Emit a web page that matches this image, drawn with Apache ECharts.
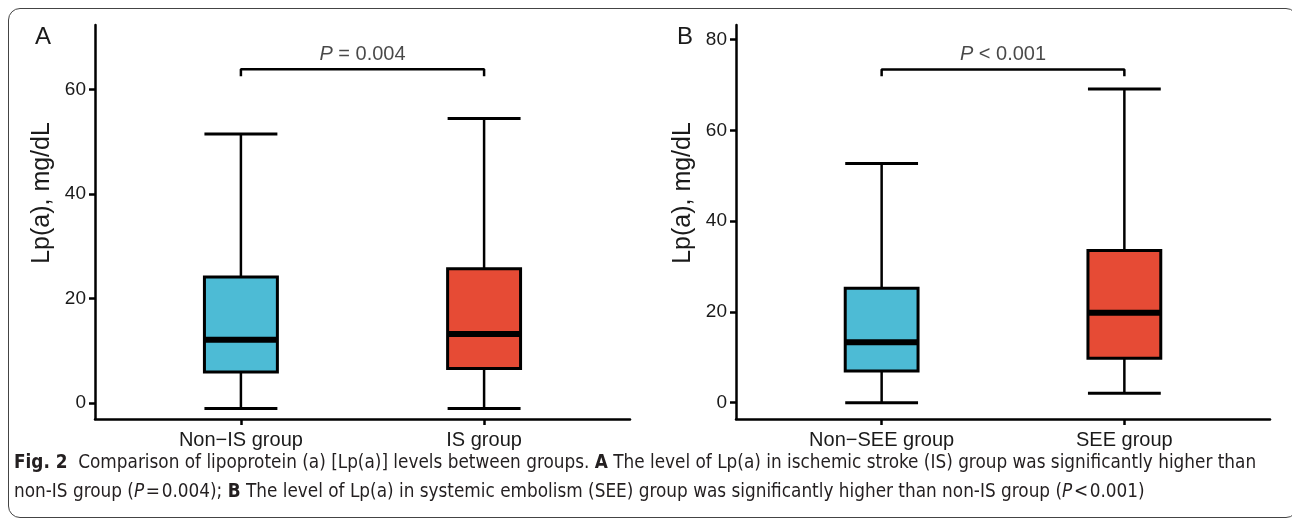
<!DOCTYPE html>
<html>
<head>
<meta charset="utf-8">
<script src="https://cdn.jsdelivr.net/npm/echarts@6/dist/echarts.min.js"></script>
<style>
  html, body { margin: 0; padding: 0; background: #fff; }
  #wrap { position: relative; width: 1292px; height: 521px; overflow: hidden; }
  #chart { position: absolute; left: 0; top: 0; width: 1292px; height: 521px; }
  #frame {
    position: absolute; left: 8px; top: 8px; width: 1290px; height: 510px;
    border: 1px solid #444; border-radius: 12px; box-sizing: border-box;
    pointer-events: none;
  }
  #caption {
    position: absolute; left: 14px; top: 447px; white-space: nowrap;
    font-family: "Liberation Sans Narrow", "DejaVu Sans Condensed", sans-serif;
    font-size: 18.8px; line-height: 29px; color: #231f20;
  }
  #caption b { font-weight: bold; }
</style>
</head>
<body>
<div id="wrap">
  <div id="chart"></div>
  <div id="frame"></div>
  <div id="caption">
    <b>Fig. 2</b>&nbsp; Comparison of lipoprotein (a) [Lp(a)] levels between groups. <b>A</b> The level of Lp(a) in ischemic stroke (IS) group was significantly higher than<br>
    non-IS group (<i>P</i>&#8202;=&#8202;0.004); <b>B</b> The level of Lp(a) in systemic embolism (SEE) group was significantly higher than non-IS group (<i>P</i>&#8202;&lt;&#8202;0.001)
  </div>
</div>
<script>
// panel A: ischemic stroke
const groupsA = ['Non\u2212IS group', 'IS group']
// [min, Q1, median, Q3, max]
const statsA = [
  [-1.1, 5.9, 12.1, 24.1, 51.5],
  [-1.1, 6.6, 13.2, 25.7, 54.5],
]
const yTicksA = [0, 20, 40, 60]
const bracketA = [62.6, 63.9]

// panel B: systemic embolism
const groupsB = ['Non\u2212SEE group', 'SEE group']
const statsB = [
  [0.0, 7.0, 13.3, 25.2, 52.7],
  [2.1, 9.8, 19.8, 33.5, 69.1],
]
const yTicksB = [0, 20, 40, 60, 80]
const bracketB = [71.9, 73.4]

const pLabels = ['{i|P} = 0.004', '{i|P} < 0.001']

const boxColors = ['#4DBBD5', '#E64B35']
const BOX_WIDTH = 0.3
const FONT = 'Liberation Sans, Arial, sans-serif'

function line(x1, y1, x2, y2, w) {
  return { type: 'line', shape: { x1, y1, x2, y2 }, style: { stroke: '#000', lineWidth: w } }
}

function renderBox(params, api) {
  const x = api.value(0)
  const half = api.size([BOX_WIDTH, 0])[0] / 2
  const pMin = api.coord([x, api.value(1)])
  const pQ1 = api.coord([x, api.value(2)])
  const pMed = api.coord([x, api.value(3)])
  const pQ3 = api.coord([x, api.value(4)])
  const pMax = api.coord([x, api.value(5)])
  const cx = pMin[0]
  return {
    type: 'group',
    children: [
      line(cx, pMax[1], cx, pQ3[1], 2.5),
      line(cx, pQ1[1], cx, pMin[1], 2.5),
      line(cx - half, pMax[1], cx + half, pMax[1], 3),
      line(cx - half, pMin[1], cx + half, pMin[1], 3),
      {
        type: 'rect',
        shape: { x: cx - half, y: pQ3[1], width: half * 2, height: pQ1[1] - pQ3[1] },
        style: { fill: boxColors[params.dataIndex], stroke: '#000', lineWidth: 3 },
      },
      line(cx - half, pMed[1], cx + half, pMed[1], 6),
    ],
  }
}

function xAxisFor(idx, groups) {
  return {
    type: 'value',
    gridIndex: idx,
    min: 0.4,
    max: 2.6,
    splitLine: { show: false },
    axisLine: { onZero: false, lineStyle: { color: '#000', width: 2.5 } },
    axisTick: { customValues: [1, 2], length: 6, lineStyle: { color: '#000', width: 2.5 } },
    axisLabel: {
      customValues: [1, 2],
      formatter: (v) => groups[Math.round(v) - 1],
      margin: 11,
      fontSize: 20,
      fontFamily: FONT,
      color: '#1a1a1a',
    },
  }
}

function yAxisFor(idx, min, max, ticks) {
  return {
    type: 'value',
    gridIndex: idx,
    min: min,
    max: max,
    splitLine: { show: false },
    axisLine: { show: true, onZero: false, lineStyle: { color: '#000', width: 2.5 } },
    axisTick: { show: true, customValues: ticks, length: 6, lineStyle: { color: '#000', width: 2.5 } },
    axisLabel: {
      customValues: ticks,
      margin: 9,
      fontSize: 19,
      fontFamily: FONT,
      color: '#1a1a1a',
    },
  }
}

function boxSeries(idx, stats) {
  return {
    type: 'custom',
    xAxisIndex: idx,
    yAxisIndex: idx,
    renderItem: renderBox,
    encode: { x: 0, y: [1, 2, 3, 4, 5] },
    data: stats.map((s, i) => [i + 1].concat(s)),
    z: 3,
  }
}

function bracketSeries(idx, br) {
  return {
    type: 'line',
    xAxisIndex: idx,
    yAxisIndex: idx,
    symbol: 'none',
    silent: true,
    lineStyle: { color: '#000', width: 2.5 },
    data: [[1, br[0]], [1, br[1]], [2, br[1]], [2, br[0]]],
  }
}

function pSeries(idx, br, text) {
  return {
    type: 'scatter',
    xAxisIndex: idx,
    yAxisIndex: idx,
    symbolSize: 0,
    silent: true,
    data: [[1.5, br[1]]],
    label: {
      show: true,
      position: 'top',
      distance: 5,
      formatter: text,
      fontSize: 20,
      lineHeight: 20,
      fontFamily: FONT,
      color: '#1a1a1a',
      rich: { i: { fontStyle: 'italic', fontSize: 20, fontFamily: FONT, color: '#1a1a1a' } },
    },
  }
}

function panelText(x, y, text, size, rot) {
  return {
    type: 'text',
    x: x,
    y: y,
    rotation: rot || 0,
    style: {
      text: text,
      font: size + 'px ' + FONT,
      fill: '#1a1a1a',
      align: 'center',
      verticalAlign: 'middle',
    },
  }
}

const chart = echarts.init(document.getElementById('chart'))
chart.setOption({
  animation: false,
  grid: [
    { left: 95, right: 662, top: 25, bottom: 102 },
    { left: 736, right: 22, top: 25, bottom: 102 },
  ],
  xAxis: [xAxisFor(0, groupsA), xAxisFor(1, groupsB)],
  yAxis: [yAxisFor(0, -3.1, 72.4, yTicksA), yAxisFor(1, -3.6, 83.2, yTicksB)],
  series: [
    boxSeries(0, statsA),
    boxSeries(1, statsB),
    bracketSeries(0, bracketA),
    bracketSeries(1, bracketB),
    pSeries(0, bracketA, pLabels[0]),
    pSeries(1, bracketB, pLabels[1]),
  ],
  graphic: [
    panelText(43, 37, 'A', 24),
    panelText(685, 37, 'B', 24),
    panelText(42, 193, 'Lp(a), mg/dL', 25, Math.PI / 2),
    panelText(683, 193, 'Lp(a), mg/dL', 25, Math.PI / 2),
  ],
})
</script>
</body>
</html>
